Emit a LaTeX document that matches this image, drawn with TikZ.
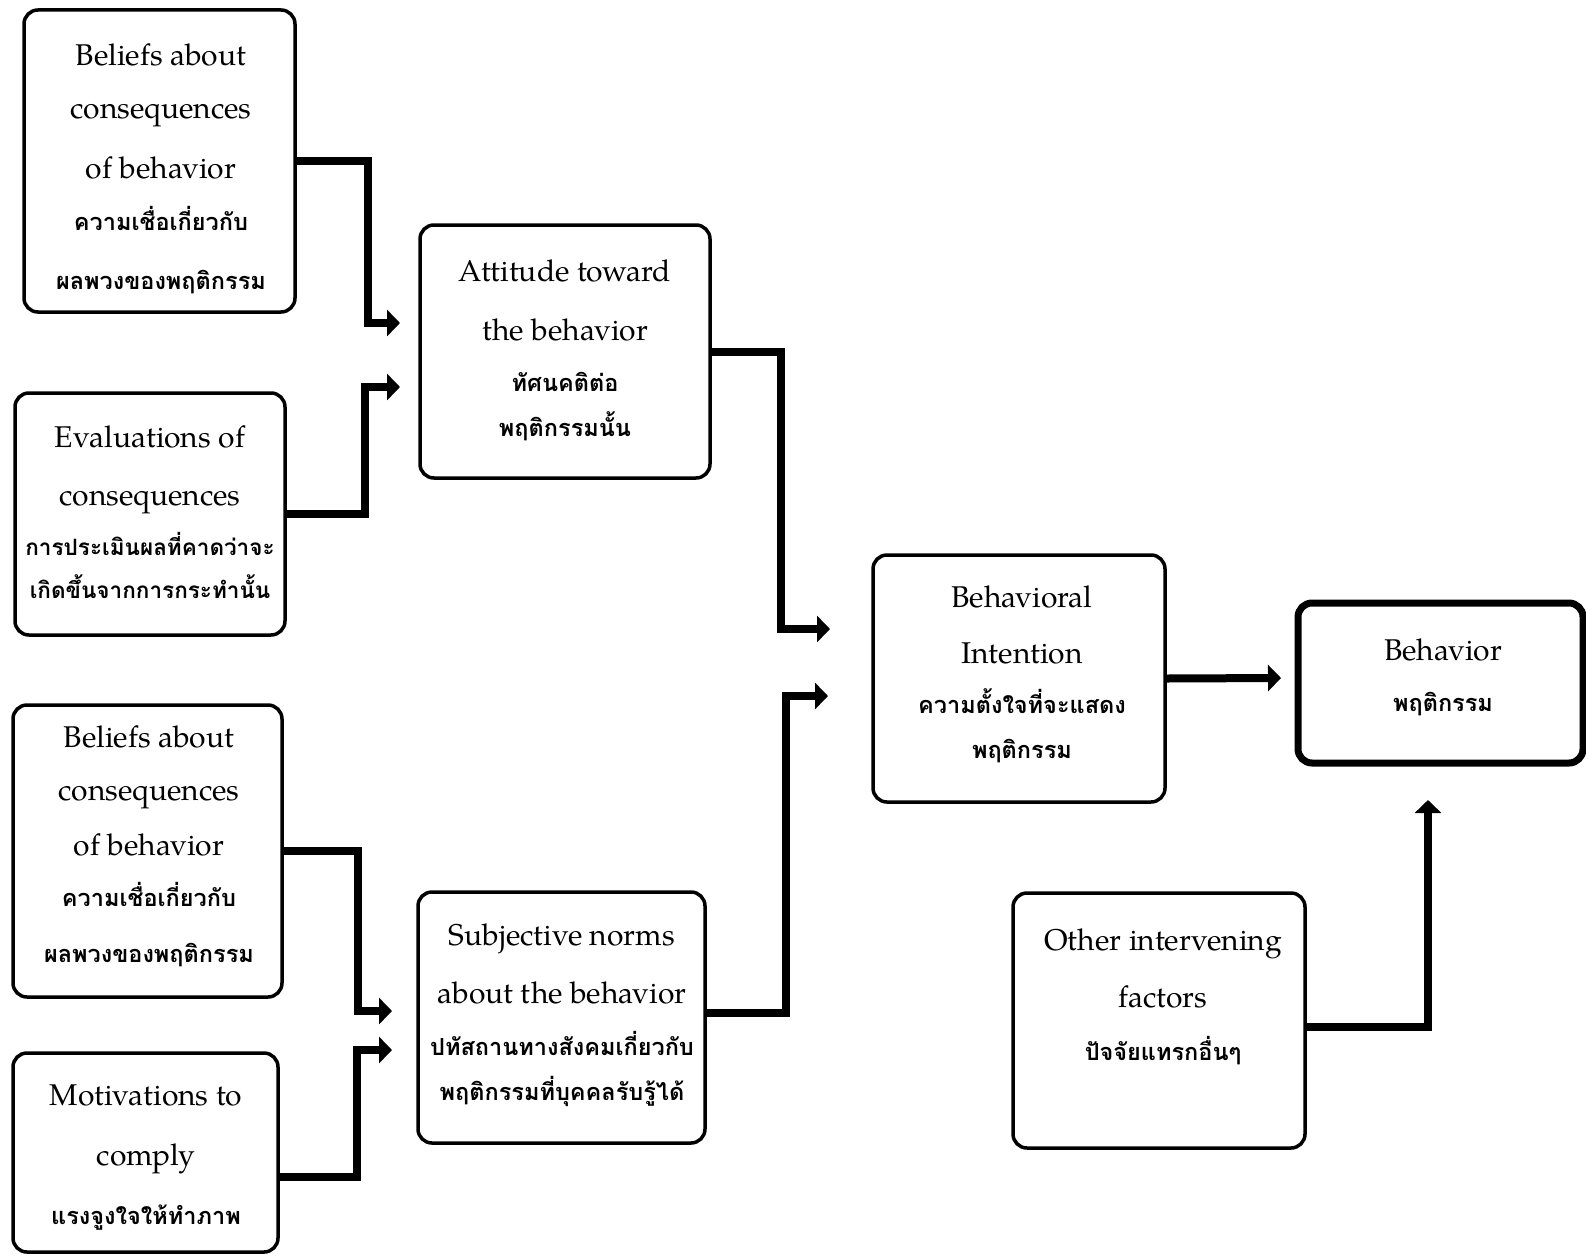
\documentclass[tikz,border=0pt]{standalone}
\usepackage{fontspec}
\setmainfont{TeX Gyre Pagella}
\newfontfamily\thaifont[Script=Thai]{Loma}
\usetikzlibrary{arrows.meta}
\newcommand\thai[1]{{\thaifont\bfseries\fontsize{23.5}{57}\selectfont #1}}
\tikzset{
  box/.style={draw, line width=3.5pt, rounded corners=14pt, inner sep=0pt},
  boldbox/.style={box, line width=7pt},
  txt/.style={align=center, inner sep=0pt, anchor=north, font=\fontsize{30}{57}\selectfont},
  conn/.style={line width=8pt, -{Triangle[length=13pt,width=26pt]}},
}
\begin{document}
\begin{tikzpicture}[x=1pt,y=-1pt]
\useasboundingbox (0,0) rectangle (1586,1255);
% boxes
\node[box, minimum width=271pt, minimum height=302pt] (b1) at (159.5,161) {};
\node[box, minimum width=270pt, minimum height=242pt] (b2) at (150,514) {};
\node[box, minimum width=290pt, minimum height=253pt] (att) at (565,351.5) {};
\node[box, minimum width=269pt, minimum height=292pt] (b4) at (147.5,851) {};
\node[box, minimum width=265pt, minimum height=199pt] (mot) at (145.5,1152.5) {};
\node[box, minimum width=287pt, minimum height=251pt] (sub) at (561.5,1017.5) {};
\node[box, minimum width=292pt, minimum height=247pt] (bi) at (1019,678.5) {};
\node[boldbox, minimum width=285pt, minimum height=160pt] (beh) at (1440.5,683) {};
\node[box, minimum width=292pt, minimum height=255pt] (oth) at (1159,1020.5) {};
% texts
\node[txt] (b1t) at (161,43) {Beliefs about\\[-4pt]consequences\\[3pt]of behavior\\[-5pt]\thai{ความเชื่อเกี่ยวกับ}\\[2pt]\thai{ผลพวงของพฤติกรรม}};
\node[txt] (b2t) at (150,425) {Evaluations of\\[1pt]consequences\\[-7pt]{\thaifont\bfseries\fontsize{22.5}{57}\selectfont การประเมินผลที่คาดว่าจะ}\\[-14pt]{\thaifont\bfseries\fontsize{22.5}{57}\selectfont เกิดขึ้นจากการกระทำนั้น}};
\node[txt] (attt) at (565,260) {Attitude toward\\[2pt]the behavior\\[-6pt]\thai{ทัศนคติต่อ}\\[-12pt]\thai{พฤติกรรมนั้น}};
\node[txt] (b4t) at (149,725) {Beliefs about\\[-4pt]consequences\\[-2pt]of behavior\\[-6pt]\thai{ความเชื่อเกี่ยวกับ}\\[-1pt]\thai{ผลพวงของพฤติกรรม}};
\node[txt] (mott) at (146,1085) {Motivations to\\[3pt]comply\\[2pt]\thai{แรงจูงใจให้ทำภาพ}};
\node[txt] (subt) at (562,924) {Subjective norms\\[1pt]about the behavior\\[-5pt]\thai{ปทัสถานทางสังคมเกี่ยวกับ}\\[-12pt]\thai{พฤติกรรมที่บุคคลรับรู้ได้}};
\node[txt] (bit) at (1022,586) {Behavioral\\[-1pt]Intention\\[-7pt]\thai{ความตั้งใจที่จะแสดง}\\[-12pt]\thai{พฤติกรรม}};
\node[txt] (beht) at (1443,639) {Behavior\\[-6pt]\thai{พฤติกรรม}};
\node[txt] (otht) at (1163,929) {Other intervening\\[0pt]factors\\[-4pt]\thai{ปัจจัยแทรกอื่นๆ}};
% arrow tips
\coordinate (a1) at (400,323);
\coordinate (a2) at (400,387);
\coordinate (a3) at (830,629);
\coordinate (a4) at (392,1011);
\coordinate (a5) at (392,1050);
\coordinate (a6) at (828,696);
\coordinate (a7) at (1281,678);
\coordinate (a8) at (1428,800);
% connectors
\draw[conn] (b1.east) -- (368,161) |- (a1);
\draw[conn] (b2.east) -- (365,514) |- (a2);
\draw[conn] (att.east) -- (781,351.5) |- (a3);
\draw[conn] (b4.east) -- (358,851) |- (a4);
\draw[conn] (mot.east |- 0,1177) -- (357,1177) |- (a5);
\draw[conn] (sub.east |- 0,1013) -- (786,1013) |- (a6);
\draw[conn] (bi.east) -- (a7);
\draw[conn] (oth.east |- 0,1027) -| (a8);
\end{tikzpicture}
\end{document}
